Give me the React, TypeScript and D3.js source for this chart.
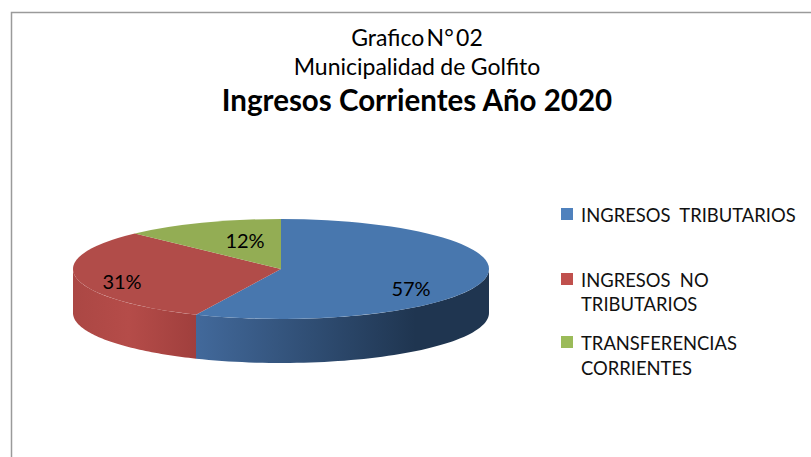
import React from "react";
import * as d3 from "d3";

const categories = ["INGRESOS TRIBUTARIOS", "INGRESOS NO TRIBUTARIOS", "TRANSFERENCIAS CORRIENTES"];
const values = [56.7, 30.9, 12.4];
const legendLines = [["INGRESOS  TRIBUTARIOS"], ["INGRESOS  NO", "TRIBUTARIOS"], ["TRANSFERENCIAS", "CORRIENTES"]];
const titleLines = ["Grafico N° 02", "Municipalidad de Golfito", "Ingresos Corrientes Año 2020"];
const topColors = ["#4877ae", "#b14c49", "#93ad54"];
const legendColors = ["#4f81bd", "#c0504d", "#9bbb59"];

const W = 811, H = 457;
const cx = 281, cy = 269, rx = 208, ry = 50, depth = 44;
const font = "Lato, Carlito, sans-serif";

const pie = d3.pie<number>().sort(null).startAngle(0).endAngle(2 * Math.PI);
const arcs = pie(values);
const arcGen = d3.arc<d3.PieArcDatum<number>>().innerRadius(0).outerRadius(rx);
const pct = d3.format(".0f");

const ptX = (a: number) => cx + rx * Math.sin(a);
const ptY = (a: number) => cy - ry * Math.cos(a);

function wallPath(a0: number, a1: number) {
  const from = Math.max(a0, Math.PI / 2);
  const to = Math.min(a1, 1.5 * Math.PI);
  if (to <= from) return null;
  const angles = d3.range(0, 61).map((i) => from + ((to - from) * i) / 60);
  const area = d3
    .area<number>()
    .x(ptX)
    .y0(ptY)
    .y1((a) => ptY(a) + depth);
  return area(angles);
}

const labelPos = [
  [411, 289],
  [122, 282],
  [245, 241],
];
const legendY = [[222], [287, 311], [350, 375]];
const swatchY = [208, 273, 336];
const titleY = [46, 75, 111];
const titleSize = [23, 23, 29.5];
const titleWordSpacing = [-3.5, -0.5, 0];

export default function App() {
  return (
    <svg width={W} height={H} viewBox={`0 0 ${W} ${H}`} style={{ position: "absolute", left: 0, top: 0, background: "#fff" }}>
      <defs>
        <linearGradient id="wall0" x1="0" x2="1" y1="0" y2="0">
          <stop offset="0" stopColor="#42699b" />
          <stop offset="0.75" stopColor="#1f3550" />
          <stop offset="1" stopColor="#1f3550" />
        </linearGradient>
        <linearGradient id="wall1" x1="0" x2="1" y1="0" y2="0">
          <stop offset="0" stopColor="#ab4744" />
          <stop offset="0.45" stopColor="#b54c49" />
          <stop offset="1" stopColor="#a03f3d" />
        </linearGradient>
      </defs>
      <path d={`M11.5,${H} V12.5 H${W}`} fill="none" stroke="#9a9a9a" strokeWidth={1.5} />
      {titleLines.map((t, i) => (
        <text key={t} x={417} y={titleY[i]} textAnchor="middle" fontFamily={font} fontSize={titleSize[i]} fontWeight={i === 2 ? 700 : 400} fill="#000" style={{ wordSpacing: titleWordSpacing[i] }}>
          {t}
        </text>
      ))}
      {arcs.map((a, i) => {
        const d = wallPath(a.startAngle, a.endAngle);
        return d ? <path key={i} d={d} fill={`url(#wall${i})`} /> : null;
      })}
      {arcs.map((a, i) => (
        <path key={i} d={arcGen(a) as string} transform={`translate(${cx},${cy}) scale(1,${ry / rx})`} fill={topColors[i]} />
      ))}
      {arcs.map((a, i) => (
        <text key={i} x={labelPos[i][0]} y={labelPos[i][1]} dy="0.35em" textAnchor="middle" fontFamily={font} fontSize={20} fill="#000">
          {`${pct(values[i])}%`}
        </text>
      ))}
      {categories.map((c, i) => (
        <g key={c}>
          <rect x={561} y={swatchY[i]} width={12} height={12} fill={legendColors[i]} />
          {legendLines[i].map((l, j) => (
            <text key={j} x={581} y={legendY[i][j]} fontFamily={font} fontSize={18.4} fill="#111" style={{ whiteSpace: "pre" }}>
              {l}
            </text>
          ))}
        </g>
      ))}
    </svg>
  );
}
